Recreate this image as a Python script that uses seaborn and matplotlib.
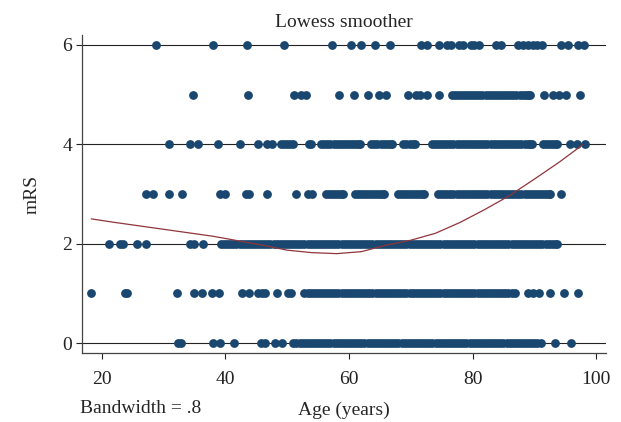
"""
Lowess smoother of mRS against age (Stata-style scatter with lowess line).
"""

import pandas as pd
import matplotlib
matplotlib.use("Agg")
import matplotlib.pyplot as plt
import seaborn as sns

# Ages (years) of the patients at each mRS level
age_mrs0 = [32.3, 32.8, 38.0, 39.1, 41.4, 45.8, 46.4, 48.0, 49.2,
            51, 51.5, 52, 52.5, 53, 53.5, 54, 54.5, 55, 55.5, 56, 56.5, 57, 57.5,
            58, 58.5, 59, 59.5, 60, 60.5, 61, 61.5, 62, 62.5, 63, 63.5, 64, 64.5,
            65, 65.5, 66, 66.5, 67, 67.5, 68, 68.5, 69, 69.5, 70, 70.5, 71, 71.5,
            72, 72.5, 73, 73.5, 74, 74.5, 75, 75.5, 76, 76.5, 77, 77.5, 78, 78.5,
            79, 79.5, 80, 80.5, 81, 81.5, 82, 82.5, 83, 83.5, 84, 84.5, 85, 85.5,
            86, 86.5, 87, 87.5, 88, 88.5, 89, 89.5, 90, 90.5, 91,
            93.4, 96.0]
age_mrs1 = [18.3, 23.7, 24.1, 32.2, 34.9, 36.2, 37.9, 38.9, 42.7, 43.8, 45.3, 45.9,
            46.4, 48.4, 50.1, 50.6,
            52.8, 53.3, 53.8, 54.3, 54.8, 55.3, 55.8, 56.3, 56.8, 57.3, 57.8, 58.3,
            58.8, 59.3, 59.8, 60.3, 60.8, 61.3, 61.8, 62.3, 62.8, 63.3, 63.8, 64.3,
            64.8, 65.3, 65.8, 66.3, 66.8, 67.3, 67.8, 68.3, 68.8, 69.3, 69.8, 70.3,
            70.8, 71.3, 71.8, 72.3, 72.8, 73.3, 73.8, 74.3, 74.8, 75.3, 75.8, 76.3,
            76.8, 77.3, 77.8, 78.3, 78.8, 79.3, 79.8, 80.3, 80.8, 81.3, 81.8, 82.3,
            82.8, 83.3, 83.8, 84.3, 84.8, 85.3, 85.8, 86.3, 86.9,
            89.0, 89.8, 90.7, 92.6, 94.8, 97.0]
age_mrs2 = [21.2, 23.0, 23.4, 25.7, 27.1, 34.3, 35.0, 36.4,
            39.3, 39.8, 40.3, 40.8, 41.3, 41.8, 42.3, 42.8, 43.3, 43.8, 44.3, 44.8,
            45.3, 45.8, 46.3, 46.8, 47.3, 47.8, 48.3, 48.8, 49.3, 49.8, 50.3, 50.8,
            51.3, 51.8, 52.3, 52.8, 53.3, 53.8, 54.3, 54.8, 55.3, 55.8, 56.3, 56.8,
            57.3, 57.8, 58.3, 58.8, 59.3, 59.8, 60.3, 60.8, 61.3, 61.8, 62.3, 62.8,
            63.3, 63.8, 64.3, 64.8, 65.3, 65.8, 66.3, 66.8, 67.3, 67.8, 68.3, 68.8,
            69.3, 69.8, 70.3, 70.8, 71.3, 71.8, 72.3, 72.8, 73.3, 73.8, 74.3, 74.8,
            75.3, 75.8, 76.3, 76.8, 77.3, 77.8, 78.3, 78.8, 79.3, 79.8, 80.3, 80.8,
            81.3, 81.8, 82.3, 82.8, 83.3, 83.8, 84.3, 84.8, 85.3, 85.8, 86.3, 86.8,
            87.3, 87.8, 88.3, 88.8, 89.3, 89.8, 90.3, 90.8, 91.3, 91.8, 92.3, 92.8,
            93.3, 93.7]
age_mrs3 = [27.2, 28.3, 30.9, 33.0, 39.1, 40.0, 43.3, 43.9, 46.7, 51.4, 53.4, 54.0,
            56.3, 56.8, 57.3, 57.8, 58.3, 58.7, 59.1,
            60.9, 61.4, 61.9, 62.4, 62.9, 63.4, 63.9, 64.4, 64.9, 65.3, 65.6,
            67.9, 68.4, 68.9, 69.4, 69.9, 70.4, 70.9, 71.4, 71.8, 72.1,
            74.4, 74.9, 75.4, 75.9, 76.4, 76.9, 77.4, 77.9, 78.4, 78.9, 79.4, 79.9,
            80.4, 80.9, 81.4, 81.9, 82.4, 82.9, 83.4, 83.9, 84.4, 84.9, 85.4, 85.9,
            86.4, 86.9, 87.4, 87.9, 88.4, 88.9, 89.4, 89.9, 90.4, 90.9, 91.4, 91.9,
            92.3, 92.6, 94.3]
age_mrs4 = [30.8, 34.2, 35.5, 38.8, 42.4, 45.2, 46.8, 47.6, 49.0, 49.5, 50.0, 50.5,
            51.0, 53.6, 53.9,
            55.5, 56.0, 56.5, 57.0, 57.5, 58.0, 58.5, 59.0, 59.5, 60.0, 60.5, 61.0,
            61.5, 61.8,
            63.6, 64.1, 64.6, 65.1, 65.6, 66.1, 66.6, 66.9,
            68.8, 69.3, 69.8, 70.3, 70.7,
            73.4, 73.9, 74.4, 74.9, 75.4, 75.9, 76.4, 76.9, 77.4, 77.9, 78.4, 78.9,
            79.4, 79.9, 80.4, 80.9, 81.4, 81.9, 82.4, 82.9, 83.4, 83.9, 84.4, 84.9,
            85.4, 85.9, 86.4, 86.9, 87.4, 87.9, 88.4, 88.9, 89.3, 89.6,
            91.4, 91.9, 92.4, 92.9, 93.4, 93.7,
            95.7, 96.9, 98.2]
age_mrs5 = [34.7, 43.7, 51.1, 52.3, 53.0, 58.4, 60.8, 63.1, 64.9, 66.0, 69.5, 70.8,
            71.5, 72.7, 74.6,
            76.6, 77.1, 77.6, 78.1, 78.6, 79.1, 79.6, 80.1, 80.6, 81.1, 81.6, 82.1,
            82.6, 83.1, 83.6, 84.1, 84.6, 85.1, 85.6, 86.1, 86.6, 87.1, 87.6, 88.1,
            88.6, 89.0, 89.3,
            91.6, 93.0, 94.0, 95.1, 97.4]
age_mrs6 = [28.8, 38.0, 43.5, 49.5, 57.3, 60.3, 61.9, 64.2, 66.6, 71.7, 72.7, 74.6,
            75.8, 76.5, 77.8, 78.4, 79.7, 80.3, 81.1, 83.8, 84.6, 87.3, 88.1, 88.9,
            89.7, 90.5, 91.3, 94.3, 95.4, 97.0, 98.1]

# Lowess fit (bandwidth .8)
lowess_age = [18.3, 22, 26, 30, 34, 38, 42, 46, 50, 54, 58, 62, 66, 70, 74, 78, 82,
              86, 90, 94, 97.8]
lowess_mrs = [2.50, 2.43, 2.36, 2.29, 2.22, 2.15, 2.06, 1.97, 1.87, 1.82, 1.80, 1.84,
              1.97, 2.07, 2.21, 2.43, 2.69, 2.97, 3.30, 3.64, 3.99]

levels = {0: age_mrs0, 1: age_mrs1, 2: age_mrs2, 3: age_mrs3,
          4: age_mrs4, 5: age_mrs5, 6: age_mrs6}
df = pd.DataFrame([(a, m) for m, ages in levels.items() for a in ages],
                  columns=["age", "mrs"])
fit = pd.DataFrame({"age": lowess_age, "mrs": lowess_mrs})

sns.set_style("white")
plt.rcParams['font.family'] = ['Liberation Serif', 'DejaVu Serif']
plt.rcParams['font.size'] = 14

navy = "#1a476f"
maroon = "#90353b"

fig = plt.figure(figsize=(6.21, 4.22), dpi=100)
ax = fig.add_axes([0.132, 0.1635, 0.844, 0.7535])

# Grid lines at the labelled y ticks (drawn first so points sit on top)
for y in [0, 2, 4, 6]:
    ax.axhline(y, color="#222222", lw=0.8, zorder=1)

sns.scatterplot(data=df, x="age", y="mrs", color=navy, s=40, linewidth=0,
                ax=ax, zorder=2)
sns.lineplot(data=fit, x="age", y="mrs", color=maroon, lw=0.9, ax=ax, zorder=3)

ax.set_xlim(16.8, 101.6)
ax.set_ylim(-0.2, 6.2)
ax.set_xticks([20, 40, 60, 80, 100])
ax.set_yticks([0, 2, 4, 6])
ax.tick_params(axis="both", labelsize=14, colors="#222222", length=4, width=0.8,
               left=True, bottom=True)
ax.tick_params(axis="y", pad=3)
ax.tick_params(axis="x", pad=9)

for side in ["top", "right"]:
    ax.spines[side].set_visible(False)
for side in ["left", "bottom"]:
    ax.spines[side].set_color("#444444")
    ax.spines[side].set_linewidth(0.9)

ax.set_title("Lowess smoother", fontsize=14, pad=6)
ax.set_ylabel("mRS", fontsize=14, labelpad=16)
ax.set_xlabel("Age (years)", fontsize=14, labelpad=10)
fig.text(0.129, 0.012, "Bandwidth = .8", fontsize=14, ha="left", va="bottom")

plt.savefig("out.png", dpi=100)
plt.close()
